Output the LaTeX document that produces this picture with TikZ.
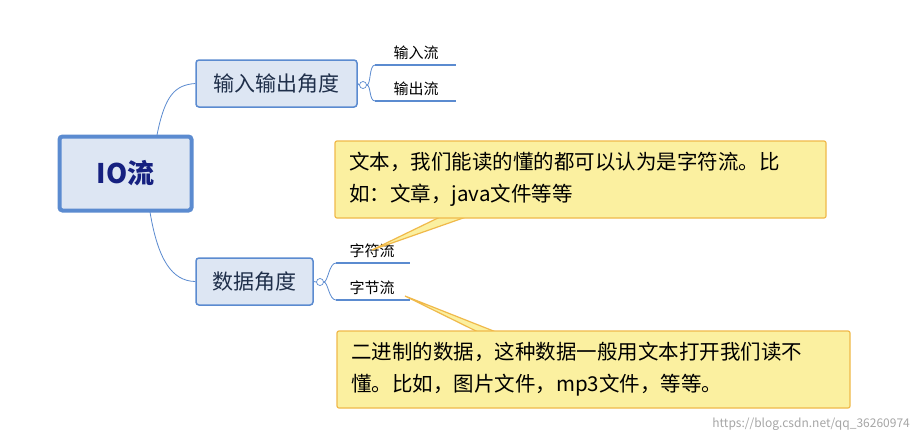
\documentclass[tikz,border=0pt]{standalone}
\usepackage{fontspec}
\setmainfont{Noto Sans CJK SC}
\begin{document}
\begin{tikzpicture}[x=1pt,y=-1pt,
  topic/.style={draw=topicline, fill=topicfill, rounded corners=3pt, line width=1.5pt, inner sep=0pt, text=textblue},
  leaf/.style={font=\fontsize{15}{17}\selectfont, text=black, anchor=south, inner sep=1pt},
  conn/.style={draw=connline, line width=0.8pt},
  callout/.style={draw=calloutline, fill=calloutfill, line width=1.2pt, rounded corners=2pt, inner sep=0pt},
  ctext/.style={font=\fontsize{20.5}{32}\selectfont, align=left, anchor=north west, inner sep=0pt}]
\definecolor{topicline}{HTML}{5B8BD0}
\definecolor{topicfill}{HTML}{DDE6F3}
\definecolor{textblue}{HTML}{1F2F4A}
\definecolor{connline}{HTML}{5B8BD0}
\definecolor{calloutline}{HTML}{F0B94A}
\definecolor{calloutfill}{HTML}{FBF0A0}
\useasboundingbox (0,0) rectangle (917,440);
\fill[white] (0,0) rectangle (917,440);
% root
\node[topic, line width=4pt, minimum width=132pt, minimum height=74pt, font=\bfseries\fontsize{27}{30}\selectfont, text=textblue!70!blue] (root) at (125.5,173.5) {IO流};
% main topics
\node[topic, minimum width=161pt, minimum height=47pt, font=\fontsize{21}{24}\selectfont] (io) at (276.5,83.5) {输入输出角度};
\node[topic, minimum width=117pt, minimum height=47pt, font=\fontsize{21}{24}\selectfont] (data) at (254.5,281.5) {数据角度};
\draw[conn] (157,135) .. controls (165,95) and (175,85) .. (io.west);
\draw[conn] (150,212) .. controls (158,260) and (172,281) .. (data.west);
% collapse circles
\node[draw=connline, circle, minimum size=7pt, inner sep=0pt, line width=0.7pt] (c1) at (363,85) {};
\node[draw=connline, circle, minimum size=7pt, inner sep=0pt, line width=0.7pt] (c2) at (320,282) {};
\draw[conn] (io.east) -- (c1.west);
\draw[conn] (data.east) -- (c2.west);
% leaves
\coordinate (l1a) at (375,65); \coordinate (l1b) at (456,65);
\coordinate (l2a) at (375,101); \coordinate (l2b) at (456,101);
\coordinate (l3a) at (336,263); \coordinate (l3b) at (410,263);
\coordinate (l4a) at (336,300); \coordinate (l4b) at (410,300);
\draw[conn] (c1.east) .. controls (371,85) and (369,65) .. (l1a);
\draw[conn] (c1.east) .. controls (371,85) and (369,101) .. (l2a);
\draw[conn] (c2.east) .. controls (328,282) and (329,263) .. (l3a);
\draw[conn] (c2.east) .. controls (328,282) and (329,300) .. (l4a);
\draw[conn, line width=2pt] (l1a) -- (l1b);
\draw[conn, line width=2pt] (l2a) -- (l2b);
\draw[conn, line width=2pt] (l3a) -- (l3b);
\draw[conn, line width=2pt] (l4a) -- (l4b);
\node[leaf] (t1) at (416,61) {输入流};
\node[leaf] (t2) at (416,97) {输出流};
\node[leaf] (t3) at (372,259) {字符流};
\node[leaf] (t4) at (372,296) {字节流};
% callouts
\fill[calloutfill] (440,217) -- (372,250) -- (466,217) -- cycle;
\draw[calloutline, line width=1.2pt] (440,217) -- (372,250) -- (466,217);
\node[callout, minimum width=491pt, minimum height=77pt] (k1) at (580.5,179.5) {};
\node[ctext] at (349,152) {文本，我们能读的懂的都可以认为是字符流。比\\如：文章，java文件等等};
\fill[calloutfill] (478,332) -- (405,296) -- (496,332) -- cycle;
\draw[calloutline, line width=1.2pt] (478,332) -- (405,296) -- (496,332);
\node[callout, minimum width=513pt, minimum height=77pt] (k2) at (593.5,369.5) {};
\node[ctext] at (351,342) {二进制的数据，这种数据一般用文本打开我们读不\\懂。比如，图片文件，mp3文件，等等。};
\node[font=\fontsize{12}{14}\selectfont, text=gray!70, anchor=east, inner sep=0pt] (wm) at (910,424) {https://blog.csdn.net/qq\_36260974};
\end{tikzpicture}
\end{document}
